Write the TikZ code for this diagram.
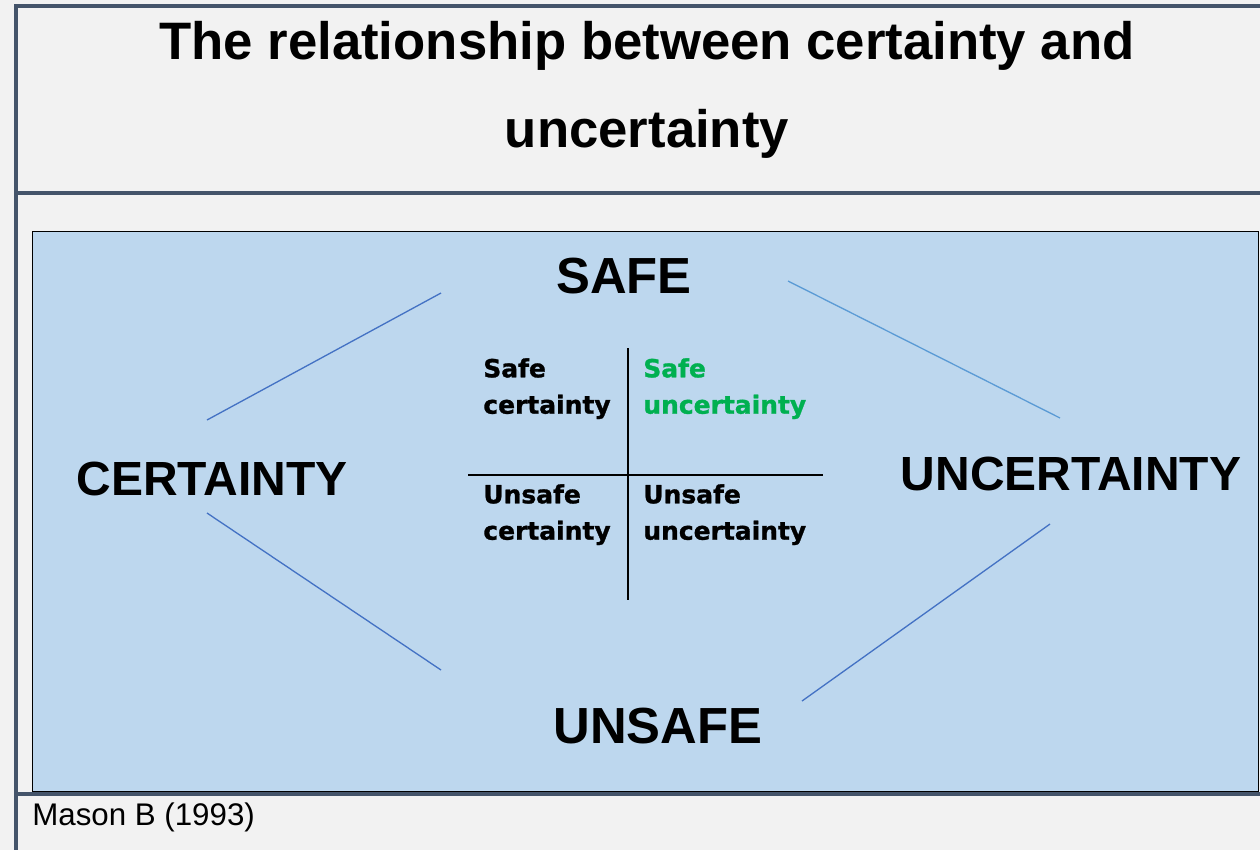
\documentclass[tikz,border=0pt]{standalone}
\usepackage{fontspec}
\setmainfont{Liberation Sans}
\newfontfamily\quadfont[BoldFeatures={FakeBold=1.2}]{DejaVu Sans}

\definecolor{pagegray}{HTML}{F2F2F2}
\definecolor{framegray}{HTML}{44546A}
\definecolor{boxblue}{HTML}{BDD7EE}
\definecolor{linkblue}{HTML}{4472C4}
\definecolor{linklight}{HTML}{5B9BD5}
\definecolor{safegreen}{HTML}{00B050}

\tikzset{
  titletext/.style={font=\bfseries\fontsize{30}{36}\selectfont, inner sep=0pt, anchor=base},
  bigword/.style={font=\bfseries\fontsize{28.9}{34}\selectfont, inner sep=0pt, anchor=base},
  sideword/.style={font=\bfseries\fontsize{27.3}{32}\selectfont, inner sep=0pt, anchor=base},
  quadtext/.style={font=\quadfont\bfseries\fontsize{14.2}{20.7}\selectfont, align=left, inner sep=0pt, anchor=north west},
  link/.style={linkblue, line width=0.75pt},
  axis/.style={black, line width=1.1pt},
}

\begin{document}
\begin{tikzpicture}[x=0.02cm, y=-0.02cm]
  \useasboundingbox (0,0) rectangle (1260,850);
  % Fondo
  \fill[pagegray] (0,0) rectangle (1260,850);

  % Caja azul
  \draw[fill=boxblue, line width=0.9pt] (32.5,231.5) rectangle (1258.5,792);

  % Marco
  \fill[framegray] (14,4) rectangle (18,850);
  \fill[framegray] (14,4) rectangle (1260,8);
  \fill[framegray] (18,191) rectangle (1260,195);
  \fill[framegray] (18,792) rectangle (1260,796);

  % Titulo
  \node[titletext] (title) at (647,59) {The relationship between certainty and};
  \node[titletext] (title2) at (647,147) {uncertainty};

  % Palabras
  \node[bigword] (safe) at (624,293) {SAFE};
  \node[bigword] (unsafe) at (658,743) {UNSAFE};
  \node[sideword] (cert) at (212,495) {CERTAINTY};
  \node[sideword] (uncert) at (1071,490) {UNCERTAINTY};

  % Lineas
  \coordinate (sc1) at (441,293);
  \coordinate (sc2) at (207,420);
  \coordinate (uc1) at (207,513);
  \coordinate (uc2) at (441,670);
  \coordinate (su1) at (788,281);
  \coordinate (su2) at (1060,418);
  \coordinate (uu1) at (1050,524);
  \coordinate (uu2) at (802,701);
  \draw[link] (sc1) -- (sc2);
  \draw[link] (uc1) -- (uc2);
  \draw[link, linklight] (su1) -- (su2);
  \draw[link] (uu1) -- (uu2);

  % Cuadrantes
  \coordinate (vtop) at (628,348);
  \coordinate (vbot) at (628,600);
  \coordinate (hleft) at (468,475);
  \coordinate (hright) at (823,475);
  \draw[axis] (vtop) -- (vbot);
  \draw[axis] (hleft) -- (hright);
  \node[quadtext] (qsc) at (483,358) {Safe\\certainty};
  \node[quadtext, text=safegreen] (qsu) at (643,358) {Safe\\uncertainty};
  \node[quadtext] (quc) at (483,484) {Unsafe\\certainty};
  \node[quadtext] (quu) at (643,484) {Unsafe\\uncertainty};

  % Fuente
  \node[font=\fontsize{17.8}{21}\selectfont, inner sep=0pt, anchor=base west] (source) at (32,825) {Mason B (1993)};
\end{tikzpicture}
\end{document}
